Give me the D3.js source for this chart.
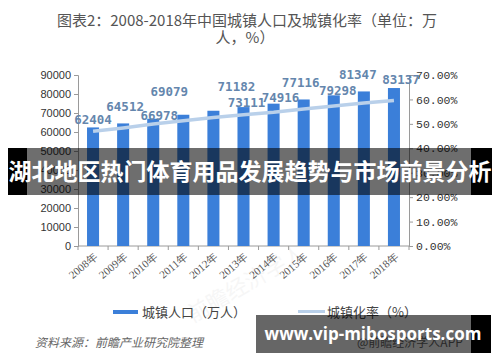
<!DOCTYPE html>
<html><head><meta charset="utf-8">
<script src="https://cdn.jsdelivr.net/npm/d3@7/dist/d3.min.js"></script>
<style>body{margin:0;background:#fff}svg{display:block}</style>
</head><body>
<svg id="c" width="500" height="362"></svg>
<script>
const years = ["2008年","2009年","2010年","2011年","2012年","2013年","2014年","2015年","2016年","2017年","2018年"];
const population = [62404,64512,66978,69079,71182,73111,74916,77116,79298,81347,83137];
const urbanRate = [46.99,48.34,49.95,51.27,52.57,53.73,54.77,56.10,57.35,58.52,59.58];
const leftTicks = [0,10000,20000,30000,40000,50000,60000,70000,80000,90000];
const rightTicks = [0,10,20,30,40,50,60,70];
const titleLines = ["图表2：2008-2018年中国城镇人口及城镇化率（单位：万","人，%）"];
const legendLabels = ["城镇人口（万人）","城镇化率（%）"];
const sourceText = "资料来源：前瞻产业研究院整理";
const sourceRight = "@前瞻经济学人APP";
const bannerText = "湖北地区热门体育用品发展趋势与市场前景分析";
const siteText = "www.vip-mibosports.com";
// label offsets (layout only): [dx, dy] relative to bar top centre
const labelOffsets = [[0,-3],[2,-12],[6,1],[-14,-19],[23,-20],[3,0],[7,-2],[-3,-12],[4,0],[-6,-12],[7,-4]];

const svg = d3.select("#c");
const x = d3.scaleBand().domain(years).range([78,409]).paddingInner(0.6).paddingOuter(0.3);
const y = d3.scaleLinear().domain([0,90000]).range([246,75]);
const yR = d3.scaleLinear().domain([0,70]).range([246,75]);

// title
svg.selectAll("text.title").data(titleLines).join("text").attr("class","title")
  .attr("x",(d,i)=> i===0?247:245).attr("y",(d,i)=>26+i*17)
  .attr("text-anchor","middle").attr("font-family","'Noto Sans CJK SC',sans-serif")
  .attr("font-size",15).attr("fill","#555").text(d=>d);

// faint watermark
svg.append("text").attr("x",250).attr("y",290).attr("text-anchor","middle")
  .attr("transform","rotate(-30,250,290)").attr("font-family","'Noto Sans CJK SC',sans-serif")
  .attr("font-size",22).attr("fill","#000").attr("opacity",0.03).text("前瞻经济学人");

// axes
const gL = svg.append("g").attr("transform","translate(78,0)")
  .call(d3.axisLeft(y).tickValues(leftTicks).tickSize(4).tickFormat(d3.format("d")));
gL.selectAll("text").attr("font-family","'Liberation Sans',Arial,sans-serif").attr("font-size",11).attr("fill","#333");
const gR = svg.append("g").attr("transform","translate(409,0)")
  .call(d3.axisRight(yR).tickValues(rightTicks).tickSize(4).tickFormat(d=>d.toFixed(2)+"%"));
gR.selectAll("text").attr("font-family","'Liberation Mono',monospace").attr("font-size",11.5).attr("fill","#333").attr("x",7);
[gL,gR].forEach(g=>{g.select(".domain").attr("stroke","#9a9a9a");g.selectAll(".tick line").attr("stroke","#9a9a9a");});

// x axis
const gX = svg.append("g");
gX.append("line").attr("x1",78).attr("x2",409).attr("y1",246).attr("y2",246).attr("stroke","#9a9a9a");
const step = x.step();
gX.selectAll("line.t").data(d3.range(years.length+1)).join("line").attr("class","t")
  .attr("x1",i=>78+i*step).attr("x2",i=>78+i*step).attr("y1",246).attr("y2",250).attr("stroke","#9a9a9a");
gX.selectAll("text").data(years).join("text")
  .attr("transform",d=>`translate(${x(d)+x.bandwidth()/2+5},258) rotate(-40)`)
  .attr("text-anchor","end").attr("font-family","'Liberation Serif',serif").attr("font-size",11).attr("fill","#555").text(d=>d);

// bars
svg.selectAll("rect.bar").data(population).join("rect").attr("class","bar")
  .attr("x",(d,i)=>x(years[i])).attr("width",x.bandwidth())
  .attr("y",d=>y(d)).attr("height",d=>246-y(d)).attr("fill","#3b7fd9");

// line
const line = d3.line().x((d,i)=>x(years[i])+x.bandwidth()/2).y(d=>yR(d));
svg.append("path").datum(urbanRate).attr("d",line).attr("fill","none").attr("stroke","#b9d0ea").attr("stroke-width",3.5);

// value labels
svg.selectAll("text.val").data(population).join("text").attr("class","val")
  .attr("x",(d,i)=>x(years[i])+x.bandwidth()/2+labelOffsets[i][0])
  .attr("y",(d,i)=>y(d)+labelOffsets[i][1])
  .attr("text-anchor","middle").attr("font-family","'DejaVu Sans Mono',monospace")
  .attr("font-size",12.5).attr("font-weight","bold").attr("fill","#6486ad").text(d=>d);

// legend
svg.append("rect").attr("x",113).attr("y",310).attr("width",25).attr("height",4).attr("fill","#3b7fd9");
svg.append("text").attr("x",142).attr("y",317).attr("font-family","'Noto Sans CJK SC',sans-serif").attr("font-size",13).attr("fill","#444").text(legendLabels[0]);
svg.append("rect").attr("x",298).attr("y",310).attr("width",27).attr("height",3).attr("fill","#b9d0ea");
svg.append("text").attr("x",327).attr("y",317).attr("font-family","'Noto Sans CJK SC',sans-serif").attr("font-size",13).attr("fill","#444").text(legendLabels[1]);

// source
svg.append("text").attr("x",35).attr("y",347).attr("font-family","'Noto Sans CJK SC',sans-serif").attr("font-size",12)
  .attr("font-style","italic").attr("fill","#666").text(sourceText);
svg.append("text").attr("x",357).attr("y",347).attr("font-family","'Noto Sans CJK SC',sans-serif").attr("font-size",12).attr("fill","#666").text(sourceRight);

// banner overlay
svg.append("rect").attr("x",8).attr("y",148).attr("width",19).attr("height",47).attr("fill","#000");
svg.append("rect").attr("x",471).attr("y",148).attr("width",21).attr("height",47).attr("fill","#000");
svg.append("rect").attr("x",27).attr("y",148).attr("width",444).attr("height",47).attr("fill","#000").attr("opacity",0.57);
svg.append("text").attr("x",250).attr("y",180).attr("text-anchor","middle")
  .attr("font-family","'Noto Sans CJK SC',sans-serif").attr("font-weight","bold")
  .attr("font-size",23).attr("fill","#fff").text(bannerText);

// site overlay
svg.append("rect").attr("x",256).attr("y",315).attr("width",215).attr("height",38).attr("fill","#000").attr("opacity",0.6);
svg.append("rect").attr("x",471).attr("y",315).attr("width",20).attr("height",38).attr("fill","#000");
svg.append("text").attr("x",373).attr("y",340).attr("text-anchor","middle")
  .attr("font-family","'Open Sans','DejaVu Sans',sans-serif").attr("font-weight","bold")
  .attr("font-size",17).attr("fill","#fff").text(siteText);
</script>
</body></html>
